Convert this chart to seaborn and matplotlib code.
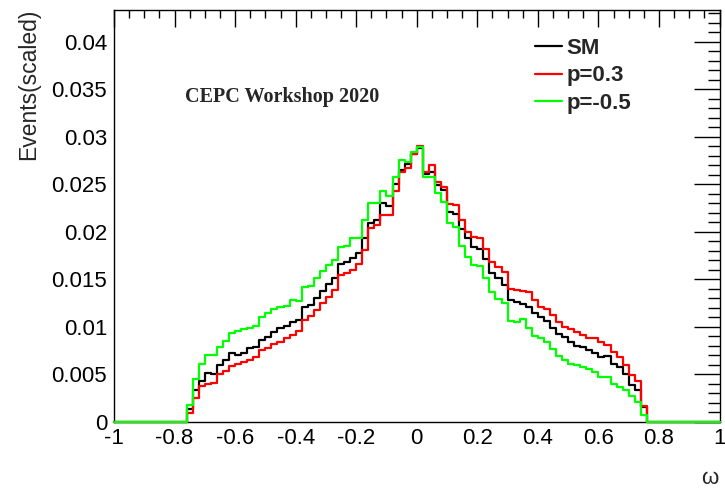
import numpy as np
import pandas as pd
import matplotlib
matplotlib.use("Agg")
import matplotlib.pyplot as plt
from matplotlib.ticker import MultipleLocator, FixedLocator, FixedFormatter
import seaborn as sns

# ---------------- data (bin contents, 0.02-wide bins from -0.76 to 0.76) ----------------
omega_lo = -0.76
bin_width = 0.02

sm = [0.0013, 0.0033, 0.0043, 0.0051, 0.0050, 0.0060, 0.0065, 0.0072, 0.0070, 0.0072,
      0.0077, 0.0079, 0.0086, 0.0089, 0.0094, 0.0098, 0.0101, 0.0105, 0.0107, 0.0121,
      0.0123, 0.0130, 0.0138, 0.0145, 0.0151, 0.0166, 0.0168, 0.0172, 0.0178, 0.0193,
      0.0209, 0.0212, 0.0230, 0.0227, 0.0250, 0.0265, 0.0271, 0.0282, 0.0288, 0.0261,
      0.0263, 0.0249, 0.0244, 0.0221, 0.0219, 0.0203, 0.0193, 0.0184, 0.0182, 0.0171,
      0.0156, 0.0151, 0.0144, 0.0128, 0.0126, 0.0124, 0.0121, 0.0114, 0.0110, 0.0106,
      0.0098, 0.0092, 0.0089, 0.0084, 0.0080, 0.0078, 0.0075, 0.0072, 0.0068, 0.0069,
      0.0061, 0.0057, 0.0050, 0.0038, 0.0033, 0.0015]

p_03 = [0.0009, 0.0025, 0.0037, 0.0040, 0.0041, 0.0050, 0.0053, 0.0058, 0.0061, 0.0063,
        0.0065, 0.0068, 0.0075, 0.0077, 0.0082, 0.0084, 0.0088, 0.0091, 0.0095, 0.0107,
        0.0111, 0.0117, 0.0125, 0.0131, 0.0139, 0.0154, 0.0156, 0.0160, 0.0166, 0.0181,
        0.0204, 0.0207, 0.0218, 0.0218, 0.0243, 0.0263, 0.0267, 0.0282, 0.0290, 0.0263,
        0.0270, 0.0252, 0.0247, 0.0229, 0.0228, 0.0212, 0.0200, 0.0194, 0.0193, 0.0182,
        0.0168, 0.0163, 0.0158, 0.0140, 0.0139, 0.0137, 0.0136, 0.0128, 0.0121, 0.0119,
        0.0112, 0.0105, 0.0100, 0.0097, 0.0094, 0.0091, 0.0088, 0.0088, 0.0084, 0.0081,
        0.0073, 0.0068, 0.0059, 0.0049, 0.0043, 0.0016]

p_m05 = [0.0017, 0.0045, 0.0061, 0.0070, 0.0070, 0.0078, 0.0085, 0.0093, 0.0095, 0.0097,
         0.0098, 0.0101, 0.0110, 0.0114, 0.0118, 0.0121, 0.0122, 0.0128, 0.0127, 0.0142,
         0.0143, 0.0151, 0.0159, 0.0165, 0.0170, 0.0184, 0.0185, 0.0193, 0.0193, 0.0212,
         0.0230, 0.0230, 0.0243, 0.0238, 0.0258, 0.0276, 0.0273, 0.0284, 0.0289, 0.0258,
         0.0258, 0.0241, 0.0231, 0.0209, 0.0205, 0.0185, 0.0173, 0.0165, 0.0164, 0.0151,
         0.0136, 0.0129, 0.0125, 0.0106, 0.0105, 0.0108, 0.0098, 0.0090, 0.0088, 0.0084,
         0.0076, 0.0069, 0.0065, 0.0061, 0.0059, 0.0057, 0.0055, 0.0052, 0.0047, 0.0047,
         0.0039, 0.0036, 0.0033, 0.0027, 0.0021, 0.0007]

series_names = ["SM", "p=0.3", "p=-0.5"]
series_colors = ["#000000", "#ff0000", "#00ff00"]

xtick_vals = [-1, -0.8, -0.6, -0.4, -0.2, 0, 0.2, 0.4, 0.6, 0.8, 1]
xtick_labels = ["-1", "-0.8", "-0.6", "-0.4", "-0.2", "0", "0.2", "0.4", "0.6", "0.8", "1"]
ytick_vals = [0, 0.005, 0.01, 0.015, 0.02, 0.025, 0.03, 0.035, 0.04]
ytick_labels = ["0", "0.005", "0.01", "0.015", "0.02", "0.025", "0.03", "0.035", "0.04"]

# ---------------- build a long table over the full -1..1 axis ----------------
nbins = 100
centers = -1 + bin_width * (np.arange(nbins) + 0.5)
start = int(round((omega_lo + 1) / bin_width))
rows = []
for name, vals in zip(series_names, [sm, p_03, p_m05]):
    w = np.zeros(nbins)
    w[start:start + len(vals)] = vals
    rows.append(pd.DataFrame({"omega": centers, "w": w, "model": name}))
df = pd.concat(rows, ignore_index=True)

# ---------------- style ----------------
sns.set_style("white")
plt.rcParams["font.family"] = ["Liberation Sans", "DejaVu Sans"]
plt.rcParams["axes.unicode_minus"] = False

fig = plt.figure(figsize=(7.25, 4.88), dpi=100)
ax = fig.add_axes([114 / 725, 1 - 421.5 / 488, (719.5 - 114) / 725, (421.5 - 10) / 488])

for name, col in zip(series_names, series_colors):
    sub = df[df["model"] == name]
    sns.histplot(data=sub, x="omega", weights="w", binwidth=bin_width, binrange=(-1, 1),
                 element="step", fill=False, color=col, linewidth=1.6, ax=ax, label=name)

for ln in ax.lines:
    ln.set_clip_on(False)
    ln.set_zorder(3)

ax.set_xlim(-1, 1)
ax.set_ylim(0, 0.04335)

ax.xaxis.set_major_locator(FixedLocator(xtick_vals))
ax.xaxis.set_major_formatter(FixedFormatter(xtick_labels))
ax.xaxis.set_minor_locator(MultipleLocator(0.05))
ax.yaxis.set_major_locator(FixedLocator(ytick_vals))
ax.yaxis.set_major_formatter(FixedFormatter(ytick_labels))
ax.yaxis.set_minor_locator(MultipleLocator(0.001))

ax.tick_params(axis="both", which="both", direction="in", top=True, right=True,
               colors="black", labelsize=16, width=1)
ax.tick_params(axis="x", which="major", length=12.5, pad=5)
ax.tick_params(axis="x", which="minor", length=5.5)
ax.tick_params(axis="y", which="major", length=19, pad=5)
ax.tick_params(axis="y", which="minor", length=9)
for s in ax.spines.values():
    s.set_color("black")
    s.set_linewidth(1)

ax.set_xlabel("")
ax.set_ylabel("")
fig.text(29 / 725, 1 - 9 / 488, "Events(scaled)", rotation=90, ha="center", va="top",
         fontsize=16.5)
fig.text(709.5 / 725, 1 - 479 / 488, "ω", ha="center", va="center", fontsize=16)

ax.text(185 / 725, 1 - 97 / 488, "CEPC Workshop 2020", transform=fig.transFigure,
        family=["Liberation Serif", "DejaVu Serif"], fontweight="bold", fontsize=14.5,
        ha="left", va="center")

leg = ax.legend(loc="upper left", bbox_to_anchor=(524 / 725, 1 - 27 / 488),
                bbox_transform=fig.transFigure, frameon=False, handlelength=1.2,
                handletextpad=0.2, labelspacing=0.28, borderpad=0,
                prop={"weight": "bold", "size": 16})

fig.savefig("out.png", dpi=100)
